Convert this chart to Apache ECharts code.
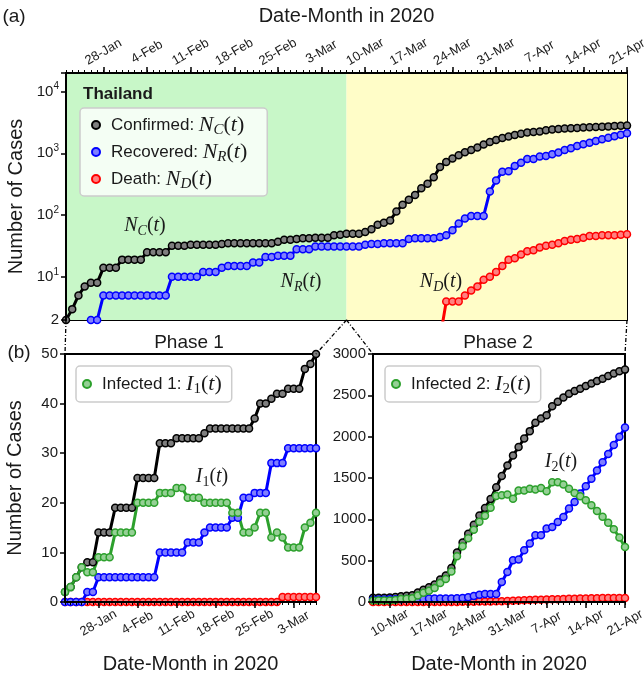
<!DOCTYPE html>
<html>
<head>
<meta charset="utf-8">
<script src="https://cdn.jsdelivr.net/npm/echarts@6/dist/echarts.min.js"></script>
<style>
  html, body { margin: 0; padding: 0; background: #fff; }
  #chart { width: 644px; height: 681px; }
</style>
</head>
<body>
<div id="chart"></div>
<script>
// Thailand, daily counts from 22-Jan to 21-Apr 2020 (91 days)
var days = [];
(function () {
  var mon = ['Jan', 'Feb', 'Mar', 'Apr'];
  var d = new Date(2020, 0, 22);
  for (var i = 0; i < 91; i++) {
    days.push(d.getDate() + '-' + mon[d.getMonth()]);
    d.setDate(d.getDate() + 1);
  }
})();

var topTicks = ['28-Jan', '4-Feb', '11-Feb', '18-Feb', '25-Feb', '3-Mar', '10-Mar',
  '17-Mar', '24-Mar', '31-Mar', '7-Apr', '14-Apr', '21-Apr'];
var phase1Ticks = ['28-Jan', '4-Feb', '11-Feb', '18-Feb', '25-Feb', '3-Mar'];
var phase2Ticks = ['10-Mar', '17-Mar', '24-Mar', '31-Mar', '7-Apr', '14-Apr', '21-Apr'];
var splitDay = '7-Mar'; // end of phase 1

var confirmed = [2, 3, 5, 7, 8, 8, 14, 14, 14, 19,
  19, 19, 19, 25, 25, 25, 25, 32, 32, 32,
  33, 33, 33, 33, 33, 34, 35, 35, 35, 35,
  35, 35, 35, 35, 37, 40, 40, 41, 42, 42,
  43, 43, 43, 47, 48, 50, 50, 50, 53, 59,
  70, 75, 82, 114, 147, 177, 212, 272, 322, 411,
  599, 721, 827, 934, 1045, 1136, 1245, 1388, 1524, 1651,
  1771, 1875, 1978, 2067, 2169, 2220, 2258, 2369, 2423, 2473,
  2518, 2551, 2579, 2613, 2643, 2672, 2700, 2733, 2765, 2792,
  2811];
var recovered = [0, 0, 0, 0, 2, 2, 5, 5, 5, 5,
  5, 5, 5, 5, 5, 5, 5, 10, 10, 10,
  10, 10, 12, 12, 12, 14, 15, 15, 15, 15,
  17, 17, 21, 21, 22, 22, 22, 28, 28, 28,
  31, 31, 31, 31, 31, 31, 31, 31, 33, 34,
  34, 35, 35, 35, 35, 41, 42, 42, 42, 42,
  44, 47, 57, 73, 88, 97, 97, 97, 242, 363,
  505, 513, 626, 707, 807, 807, 888, 908, 969, 1029,
  1130, 1211, 1312, 1400, 1490, 1590, 1690, 1790, 1900, 2000,
  2110];
var deaths = [0, 0, 0, 0, 0, 0, 0, 0, 0, 0,
  0, 0, 0, 0, 0, 0, 0, 0, 0, 0,
  0, 0, 0, 0, 0, 0, 0, 0, 0, 0,
  0, 0, 0, 0, 0, 0, 0, 0, 0, 1,
  1, 1, 1, 1, 1, 1, 1, 1, 1, 1,
  1, 1, 1, 1, 1, 1, 1, 1, 1, 1,
  1, 4, 4, 4, 5, 6, 7, 9, 10, 12,
  15, 19, 20, 23, 26, 27, 30, 32, 33, 35,
  38, 40, 41, 43, 46, 46, 47, 47, 47, 48,
  49];
// active cases, phase 1 (22-Jan .. 7-Mar) and phase 2 (7-Mar .. 21-Apr)
var infected1 = [2, 3, 5, 7, 6, 6, 9, 9, 9, 14,
  14, 14, 14, 20, 20, 20, 20, 22, 22, 22,
  23, 23, 21, 21, 21, 20, 20, 20, 20, 20,
  18, 18, 14, 14, 15, 18, 18, 13, 14, 13,
  11, 11, 11, 15, 16, 18];
var infected2 = [18, 18, 18, 19, 24, 35, 39, 46, 78, 111,
  135, 169, 229, 279, 368, 554, 673, 771, 873, 970,
  1042, 1141, 1282, 1290, 1300, 1250, 1350, 1350, 1370, 1360,
  1380, 1340, 1450, 1450, 1420, 1370, 1320, 1280, 1230, 1170,
  1100, 1030, 960, 880, 780, 666];

var G0 = { left: 66, top: 73, width: 561, height: 247 };
var G1 = { left: 65, top: 354, width: 251, height: 248 };
var G2 = { left: 373, top: 354, width: 252, height: 248 };

var sans = 'Liberation Sans';
var serif = 'Liberation Serif';
var txt = '#1a1a1a';

var colors = {
  black: ['#000000', '#7f7f7f'],
  blue: ['#0000ff', '#7f7fff'],
  red: ['#ff0000', '#ff8080'],
  green: ['#2ca02c', '#95d095']
};

function mathRich(size, lh) {
  var sub = Math.round(size * 0.7);
  var subLh = Math.round(size * 0.55);
  return {
    i: { fontFamily: serif, fontStyle: 'italic', fontSize: size, lineHeight: lh, color: txt },
    s: { fontFamily: serif, fontStyle: 'italic', fontSize: sub, lineHeight: subLh, verticalAlign: 'bottom', color: txt },
    n: { fontFamily: serif, fontSize: sub, lineHeight: subLh, verticalAlign: 'bottom', color: txt },
    p: { fontFamily: serif, fontSize: size, lineHeight: lh, color: txt }
  };
}

var legendText = {
  'Confirmed': 'Confirmed: {i|N}{s|C}{p|(}{i|t}{p|)}',
  'Recovered': 'Recovered: {i|N}{s|R}{p|(}{i|t}{p|)}',
  'Death': 'Death: {i|N}{s|D}{p|(}{i|t}{p|)}',
  'Infected 1': 'Infected 1: {i|I}{n|1}{p|(}{i|t}{p|)}',
  'Infected 2': 'Infected 2: {i|I}{n|2}{p|(}{i|t}{p|)}'
};

function pos(arr) {
  return arr.map(function (v) { return v > 0 ? v : '-'; });
}

function lineSeries(name, data, xi, yi, c) {
  return {
    name: name, type: 'line', data: data, xAxisIndex: xi, yAxisIndex: yi,
    symbol: 'circle', symbolSize: 7, showSymbol: true, showAllSymbol: true,
    lineStyle: { color: c[0], width: 3 },
    itemStyle: { color: c[1], borderColor: c[0], borderWidth: 1.5 },
    emphasis: { disabled: true }, z: 2, animation: false
  };
}

function xAxes(gridIndex, cats, ticks, position, name, nameGap) {
  var isMajor = function (i, v) { return ticks.indexOf(v) >= 0; };
  return [{
    type: 'category', gridIndex: gridIndex, position: position, data: cats, boundaryGap: false, z: 3,
    axisLine: { show: false },
    axisTick: { show: true, interval: 0, length: 3, lineStyle: { color: '#000', width: 1 } },
    axisLabel: { show: false }, splitLine: { show: false }
  }, {
    type: 'category', gridIndex: gridIndex, position: position, data: cats, boundaryGap: false, z: 3,
    axisLine: { show: true, lineStyle: { color: '#000', width: 2 } },
    axisTick: { show: true, interval: isMajor, length: 6, lineStyle: { color: '#000', width: 1.5 } },
    axisLabel: {
      show: true, interval: isMajor, rotate: position === 'top' ? -30 : 30,
      align: 'center', verticalAlign: 'middle',
      margin: 21, fontSize: 13, fontFamily: sans, color: txt
    },
    splitLine: { show: false },
    name: name, nameLocation: 'middle', nameGap: nameGap, nameMoveOverlap: false,
    nameTextStyle: { fontSize: 20, fontFamily: sans, color: txt }
  }];
}

function yAxisBase(gridIndex) {
  return {
    gridIndex: gridIndex, z: 3,
    axisLine: { show: true, lineStyle: { color: '#000', width: 2 } },
    axisTick: { show: true, length: 5, lineStyle: { color: '#000', width: 1.5 } },
    splitLine: { show: false },
    axisLabel: { fontSize: 15, fontFamily: sans, color: txt, margin: 7, formatter: function (v) { return String(v); } },
    name: 'Number of Cases', nameLocation: 'middle', nameGap: 40, nameMoveOverlap: false,
    nameTextStyle: { fontSize: 20, fontFamily: sans, color: txt }
  };
}

var yTop = yAxisBase(0);
yTop.type = 'log';
yTop.logBase = 10;
yTop.min = 2;
yTop.max = 20000;
yTop.axisLabel.formatter = function (v) {
  if (Math.abs(v - 2) < 1e-6) return '{b|2}';
  var e = Math.round(Math.log10(v));
  if (e >= 1 && e <= 4 && Math.abs(v - Math.pow(10, e)) < 1e-6 * v) return '{b|10}{e|' + e + '}';
  return '';
};
yTop.axisLabel.rich = {
  b: { fontSize: 15, fontFamily: sans, color: txt, lineHeight: 20 },
  e: { fontSize: 10, fontFamily: sans, color: txt, lineHeight: 10, verticalAlign: 'top' }
};

var y1 = yAxisBase(1);
y1.type = 'value'; y1.min = 0; y1.max = 50; y1.interval = 10;
var y2 = yAxisBase(2);
y2.type = 'value'; y2.min = 0; y2.max = 3000; y2.interval = 500;
y2.name = '';

var days1 = days.slice(0, 46);
var days2 = days.slice(45);

var xAll = []
  .concat(xAxes(0, days, topTicks, 'top', 'Date-Month in 2020', 47))
  .concat(xAxes(1, days1, phase1Ticks, 'bottom', 'Date-Month in 2020', 52))
  .concat(xAxes(2, days2, phase2Ticks, 'bottom', 'Date-Month in 2020', 52));

var topConfirmed = lineSeries('Confirmed', pos(confirmed), 1, 0, colors.black);
topConfirmed.markArea = {
  silent: true,
  data: [
    [{ xAxis: days[0], itemStyle: { color: '#c8f7c8' } }, { xAxis: splitDay }],
    [{ xAxis: splitDay, itemStyle: { color: '#fffdc8' } }, { xAxis: days[90] }]
  ]
};

var series = [
  topConfirmed,
  lineSeries('Death', pos(deaths), 1, 0, colors.red),
  lineSeries('Recovered', pos(recovered), 1, 0, colors.blue),

  lineSeries('C1', confirmed.slice(0, 46), 3, 1, colors.black),
  lineSeries('D1', deaths.slice(0, 46), 3, 1, colors.red),
  lineSeries('R1', recovered.slice(0, 46), 3, 1, colors.blue),
  lineSeries('Infected 1', infected1, 3, 1, colors.green),

  lineSeries('C2', confirmed.slice(45), 5, 2, colors.black),
  lineSeries('D2', deaths.slice(45), 5, 2, colors.red),
  lineSeries('R2', recovered.slice(45), 5, 2, colors.blue),
  lineSeries('Infected 2', infected2, 5, 2, colors.green)
];

function legendBox(names, left, top, padding) {
  return {
    data: names, left: left, top: top, orient: 'vertical', selectedMode: false,
    backgroundColor: 'rgba(255,255,255,0.8)', borderColor: '#cccccc', borderWidth: 1.5, borderRadius: 4,
    padding: padding, itemGap: 1, itemWidth: 20, itemHeight: 8, icon: 'circle',
    formatter: function (n) { return legendText[n]; },
    textStyle: { fontSize: 17, fontFamily: sans, color: txt, lineHeight: 26, rich: mathRich(22, 26) }
  };
}

function label(text, x, y, extra) {
  var st = { text: text, x: x, y: y, align: 'center', verticalAlign: 'middle', fill: txt, font: '19px "Liberation Sans"' };
  for (var k in extra) st[k] = extra[k];
  return { type: 'text', z: 10, silent: true, style: st };
}

function math(text, x, y) {
  return label(text, x, y, { rich: mathRich(20, 24) });
}

var bottom0 = G0.top + G0.height;
var splitX = G0.left + G0.width * days.indexOf(splitDay) / (days.length - 1);
function dashed(x1, y1_, x2, y2_) {
  return {
    type: 'line', z: 10, silent: true,
    shape: { x1: x1, y1: y1_, x2: x2, y2: y2_ },
    style: { stroke: '#000', lineWidth: 1.3, lineDash: [4, 2, 1, 2] }
  };
}

var chart = echarts.init(document.getElementById('chart'), null, { renderer: 'canvas' });
chart.setOption({
  animation: false,
  backgroundColor: '#ffffff',
  grid: [
    { left: G0.left, top: G0.top, width: G0.width, height: G0.height, show: true, borderColor: '#000', borderWidth: 2, outerBoundsMode: 'none' },
    { left: G1.left, top: G1.top, width: G1.width, height: G1.height, show: true, borderColor: '#000', borderWidth: 2, outerBoundsMode: 'none' },
    { left: G2.left, top: G2.top, width: G2.width, height: G2.height, show: true, borderColor: '#000', borderWidth: 2, outerBoundsMode: 'none' }
  ],
  xAxis: xAll,
  yAxis: [yTop, y1, y2],
  legend: [
    legendBox(['Confirmed', 'Recovered', 'Death'], 80, 108, [4, 20, 4, 11]),
    legendBox(['Infected 1'], 76, 366, [5, 10, 5, 6]),
    legendBox(['Infected 2'], 385, 366, [5, 10, 5, 6])
  ],
  series: series,
  graphic: [
    label('(a)', 14, 17),
    label('(b)', 19, 353),
    label('Phase 1', 189, 343),
    label('Phase 2', 498, 343),
    label('Thailand', 83, 94, { align: 'left', font: 'bold 17px "Liberation Sans"' }),
    math('{i|N}{s|C}{p|(}{i|t}{p|)}', 145, 226),
    math('{i|N}{s|R}{p|(}{i|t}{p|)}', 301, 282),
    math('{i|N}{s|D}{p|(}{i|t}{p|)}', 441, 282),
    math('{i|I}{n|1}{p|(}{i|t}{p|)}', 212, 477),
    math('{i|I}{n|2}{p|(}{i|t}{p|)}', 561, 462),
    dashed(G0.left, bottom0, G1.left, G1.top),
    dashed(splitX, bottom0, G1.left + G1.width, G1.top),
    dashed(splitX, bottom0, G2.left, G2.top),
    dashed(G0.left + G0.width, bottom0, G2.left + G2.width, G2.top)
  ]
});
</script>
</body>
</html>
